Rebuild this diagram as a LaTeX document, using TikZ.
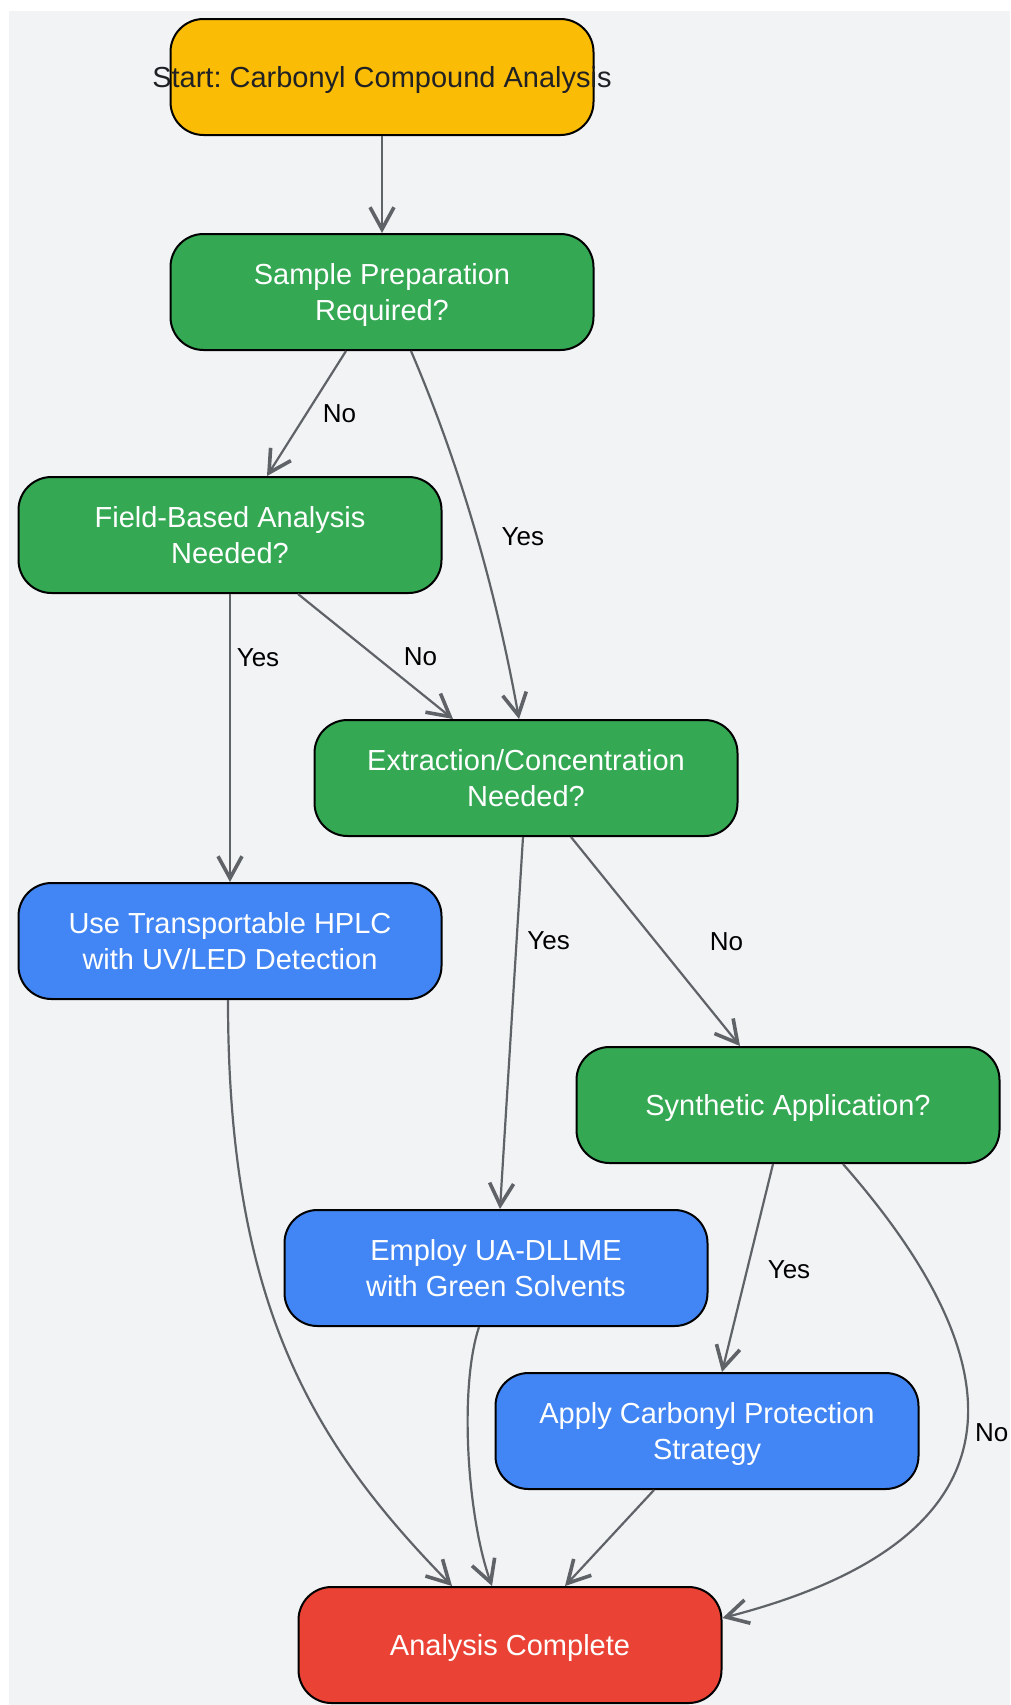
\documentclass[tikz,border=0pt]{standalone}
\usepackage{fontspec}
\setmainfont{Liberation Sans}
\usepackage{tikz}
\usetikzlibrary{arrows.meta}

\definecolor{panelbg}{HTML}{F1F3F5}
\definecolor{edgegray}{HTML}{5F6368}
\definecolor{startink}{HTML}{202124}
\definecolor{gyellow}{HTML}{FBBC05}
\definecolor{ggreen}{HTML}{34A853}
\definecolor{gblue}{HTML}{4285F4}
\definecolor{gred}{HTML}{EA4335}

\newcommand{\boxtext}[1]{\raisebox{-3pt}[\height][\depth]{\begin{tabular}{@{}c@{}}#1\end{tabular}}}

\tikzset{
    flowbox/.style={rectangle, rounded corners=33pt, draw=black, line width=2pt,
        minimum width=423pt, minimum height=116pt, text=white,
        font=\fontsize{29}{36}\selectfont},
    flow/.style={draw=edgegray, line width=2.2pt,
        -{Straight Barb[length=22pt,width=24pt,line width=3.6pt]}},
    lbl/.style={font=\fontsize{26}{30}\selectfont, text=black, inner sep=0pt},
}

\begin{document}
\begin{tikzpicture}[x=1pt,y=-1pt]
    \useasboundingbox (0,0) rectangle (1010,1705);
    \fill[panelbg] (9,11) rectangle (1010,1705);

    \node[flowbox, fill=gyellow, text=startink] (start) at (382,  77) {\boxtext{\makebox[0pt]{Start:\ Carbonyl Compound Analysis}}};
    \node[flowbox, fill=ggreen] (sample)  at (382, 292) {\boxtext{Sample Preparation\\Required?}};
    \node[flowbox, fill=ggreen] (field)   at (230, 535) {\boxtext{Field-Based Analysis\\Needed?}};
    \node[flowbox, fill=ggreen] (extract) at (526, 778) {\boxtext{Extraction/Concentration\\Needed?}};
    \node[flowbox, fill=gblue]  (hplc)    at (230, 941) {\boxtext{Use Transportable HPLC\\with UV/LED Detection}};
    \node[flowbox, fill=ggreen] (synth)   at (788,1105) {\boxtext{Synthetic Application?}};
    \node[flowbox, fill=gblue]  (dllme)   at (496,1268) {\boxtext{Employ UA-DLLME\\with Green Solvents}};
    \node[flowbox, fill=gblue]  (protect) at (707,1431) {\boxtext{Apply Carbonyl Protection\\Strategy}};
    \node[flowbox, fill=gred]   (done)    at (510,1645) {\boxtext{Analysis Complete}};

    \draw[flow] (start) -- (sample);
    \draw[flow] ([xshift=-36pt]sample.south) -- node[lbl, xshift=33pt] {No} ([xshift=37pt]field.north);
    \draw[flow] ([xshift=29pt]sample.south) .. controls +(45,105) and +(-25,-140) .. ([xshift=-7pt]extract.north)
        node[lbl, pos=0.54, xshift=46pt] {Yes};
    \draw[flow] ([xshift=68pt]field.south) -- node[lbl, xshift=45pt] {No} ([xshift=-73pt]extract.north);
    \draw[flow] (field) -- node[lbl, pos=0.22, xshift=28pt] {Yes} (hplc);
    \draw[flow] ([xshift=-3pt]extract.south) -- node[lbl, pos=0.28, xshift=32pt] {Yes} ([xshift=4pt]dllme.north);
    \draw[flow] ([xshift=45pt]extract.south) -- node[lbl, xshift=71pt] {No} ([xshift=-48pt]synth.north);
    \draw[flow] ([xshift=-15pt]synth.south) -- node[lbl, pos=0.51, xshift=42pt] {Yes} ([xshift=15pt]protect.north);
    \draw[flow] ([xshift=55pt]synth.south) .. controls +(112,128) and +(380,-98) .. ([yshift=27pt]done.east)
        node[lbl, pos=0.56, xshift=26pt] {No};
    \draw[flow] ([xshift=-2pt]hplc.south) .. controls +(0,301) and +(-142,-145) .. ([xshift=-58pt]done.north);
    \draw[flow] ([xshift=-17pt]dllme.south) .. controls +(-20,60) and +(-25,-70) .. ([xshift=-18pt]done.north);
    \draw[flow] ([xshift=-53pt]protect.south) -- ([xshift=55pt]done.north);
\end{tikzpicture}
\end{document}
